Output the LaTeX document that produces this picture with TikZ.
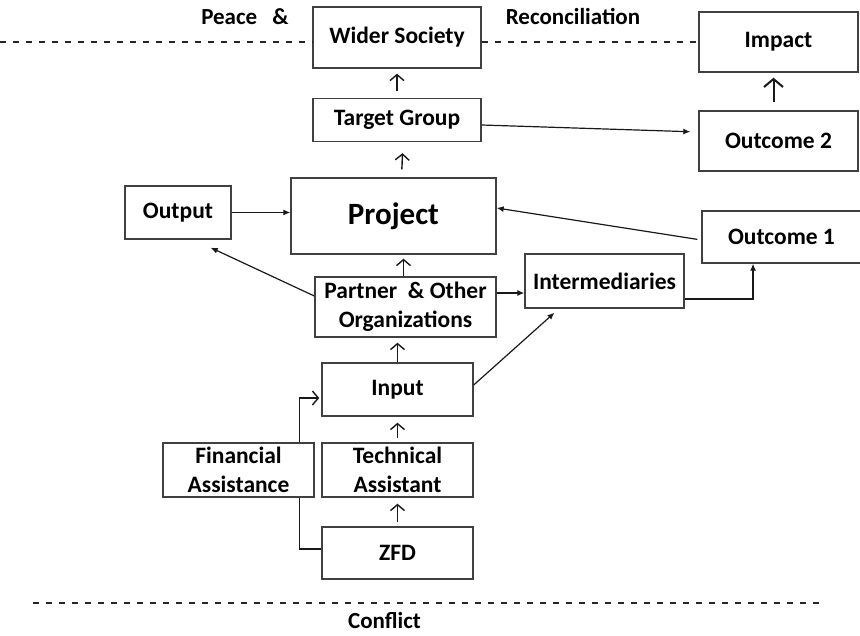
\documentclass[tikz,border=0pt]{standalone}
\usepackage{fontspec}
\setmainfont{Carlito}
\usepackage{tikz}
\usetikzlibrary{arrows.meta, positioning, calc}

\begin{document}
\begin{tikzpicture}[
    x=1pt, y=-1pt,
    box/.style = {rectangle, draw=black!75, line width=1.4pt, align=center, inner sep=2pt, font=\fontsize{23.5}{29}\selectfont\bfseries},
    label/.style = {font=\fontsize{23}{28}\selectfont\bfseries},
    up/.style = {draw=black!90, line width=1.4pt, -{Straight Barb[length=6pt,width=14pt]}},
    bigup/.style = {draw=black!90, line width=2pt, -{Straight Barb[length=8pt,width=19pt]}},
    link/.style = {draw=black!90, line width=1.2pt, -{Latex[length=7pt,width=6pt]}},
    plain/.style = {draw=black!90, line width=1.2pt},
    border/.style = {draw=black!85, line width=1.6pt, dash pattern=on 6pt off 7pt}
]
\useasboundingbox (0,0) rectangle (860,636);

% Boxes
\node (wider) [box, minimum width=168pt, minimum height=61pt] at (397, 37.5) {Wider Society};
\node (target) [box, minimum width=168pt, minimum height=43pt] at (397, 120) {Target Group};
\node (impact) [box, minimum width=159pt, minimum height=60pt] at (778.5, 42) {Impact};
\node (out2) [box, minimum width=159pt, minimum height=60pt] at (778.5, 141) {Outcome 2};
\node (output) [box, minimum width=106pt, minimum height=53pt] at (178, 212.5) {Output};
\node (project) [box, minimum width=205pt, minimum height=76pt, font=\fontsize{31}{37}\selectfont\bfseries] at (393.5, 216) {Project};
\node (partner) [box, minimum width=181pt, minimum height=60pt] at (405.5, 307) {Partner\ \ \& Other\\Organizations};
\node (out1) [box, minimum width=168pt, minimum height=52pt] at (786, 237) {\hspace*{-9pt}Outcome 1};
\node (inter) [box, minimum width=159pt, minimum height=54pt] at (604.5, 281) {Intermediaries};
\node (input) [box, minimum width=151pt, minimum height=53pt] at (397.5, 389.5) {Input};
\node (tech) [box, minimum width=151pt, minimum height=54pt] at (397.5, 470) {Technical\\Assistant};
\node (fin) [box, minimum width=151pt, minimum height=54pt] at (238.5, 470) {Financial\\Assistance};
\node (zfd) [box, minimum width=151pt, minimum height=52pt] at (397.5, 553) {ZFD};

% Labels
\node (peace) [label] at (245, 17) {Peace\hspace{10pt} \&};
\node (recon) [label] at (573, 17) {Reconciliation};
\node (conflict) [label] at (384.5, 621) {Conflict};

% Borders
\coordinate (peaceL) at (0, 42);
\coordinate (confL) at (33, 603);
\coordinate (confR) at (823, 603);
\draw [border] (peaceL) -- (peaceL -| wider.west);
\draw [border] (wider.east |- peaceL) -- (impact.west |- peaceL);
\draw [border] (confL) -- (confR);

% Upward arrows
\draw [up, shorten >=5pt, shorten <=7pt] (target.north) -- (wider.south);
\draw [up, shorten >=11pt, shorten <=8pt] ([xshift=8pt]project.north) -- ([xshift=6pt]target.south);
\draw [up, shorten >=4pt] ([xshift=-2pt]partner.north) -- ([xshift=-2pt]partner.north |- project.south);
\draw [up, shorten >=5pt] (input.north) -- (input.north |- partner.south);
\draw [up, shorten >=6pt, shorten <=4pt] (tech.north) -- (input.south);
\draw [up, shorten >=6pt, shorten <=4pt] (zfd.north) -- (tech.south);
\draw [bigup, shorten >=5pt, shorten <=8pt] ([xshift=-5pt]out2.north) -- ([xshift=-5pt]impact.south);
\draw [up, shorten >=2pt] ([xshift=-15pt]fin.north east) |- ([yshift=-8.5pt]input.west);
\draw [plain] ([xshift=-15pt]fin.south east) |- ([yshift=4pt]zfd.west);

% Links
\draw [link, shorten >=8pt] ([yshift=-5pt]target.east) -- ([yshift=9pt]out2.west);
\draw [link] (output.east) -- (output.east -| project.west);
\draw [link] ([yshift=11pt]partner.west) -- ($(output.south east)+(-21,8)$);
\draw [link, shorten <=4pt] ([yshift=-3pt]out1.west) -- ([yshift=8pt]project.east);
\draw [link] ([yshift=14pt]partner.east) -- ([yshift=-12pt]inter.west);
\draw [link] ([yshift=-18pt]inter.east) -| ([xshift=-33pt]out1.south);
\draw [link] ([yshift=4.5pt]input.east) -- ($(inter.south)+(-50,4)$);

\end{tikzpicture}
\end{document}
